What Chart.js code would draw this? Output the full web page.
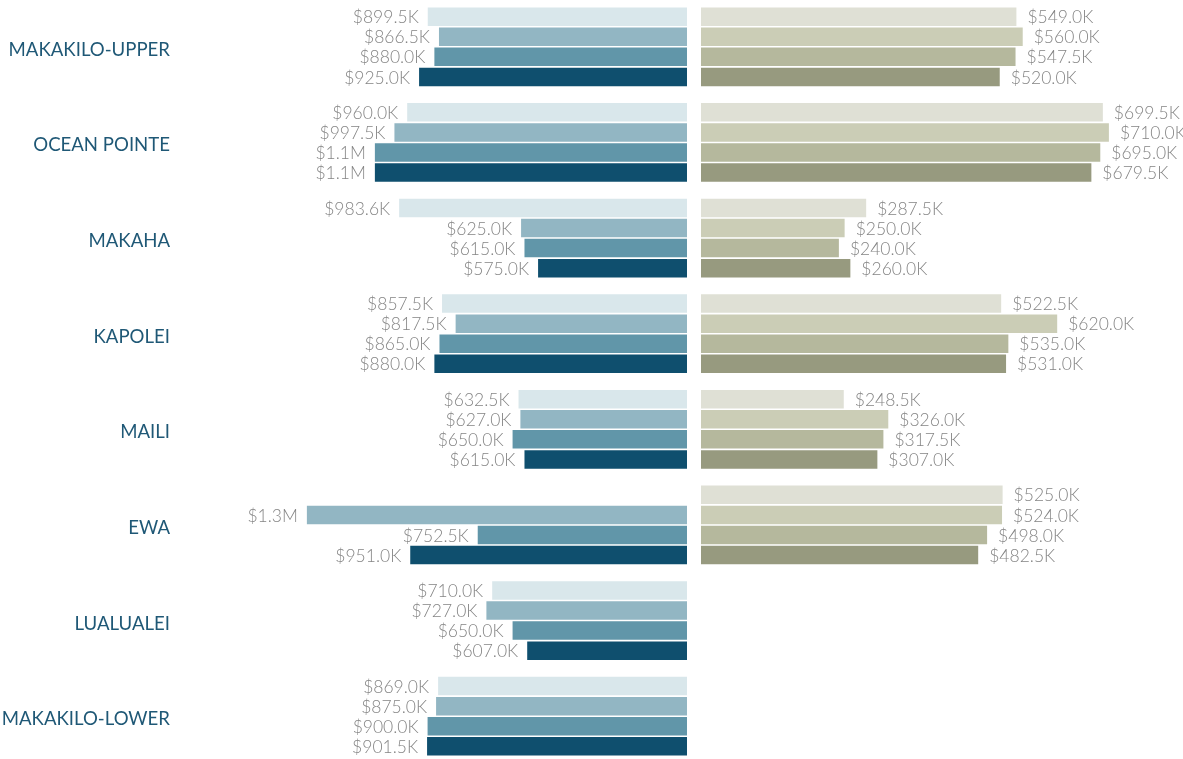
<!DOCTYPE html>
<html>
<head>
<meta charset="utf-8">
<script src="https://cdn.jsdelivr.net/npm/chart.js@4"></script>
<style>
    body { margin: 0; background: #fff; overflow: hidden; }
    #contenedor { position: relative; width: 1183px; height: 759px; overflow: hidden; }
    #cajaIzq { position: absolute; left: 0; top: -1px; width: 687px; height: 765px; }
    #cajaDer { position: absolute; left: 701px; top: -1px; width: 482px; height: 765px; }
</style>
</head>
<body>
<div id="contenedor">
    <div id="cajaIzq"><canvas id="graficoIzq"></canvas></div>
    <div id="cajaDer"><canvas id="graficoDer"></canvas></div>
</div>
<script>
// barrios (categorias)
const barrios = ['MAKAKILO-UPPER', 'OCEAN POINTE', 'MAKAHA', 'KAPOLEI', 'MAILI', 'EWA', 'LUALUALEI', 'MAKAKILO-LOWER'];

// panel izquierdo, valores en miles de $
const izq1 = [899.5, 960.0, 983.6, 857.5, 632.5, null, 710.0, 869.0];
const izq2 = [866.5, 997.5, 625.0, 817.5, 627.0, 1255, 727.0, 875.0];
const izq3 = [880.0, 1055, 615.0, 865.0, 650.0, 752.5, 650.0, 900.0];
const izq4 = [925.0, 1055, 575.0, 880.0, 615.0, 951.0, 607.0, 901.5];

// panel derecho, valores en miles de $
const der1 = [549.0, 699.5, 287.5, 522.5, 248.5, 525.0, null, null];
const der2 = [560.0, 710.0, 250.0, 620.0, 326.0, 524.0, null, null];
const der3 = [547.5, 695.0, 240.0, 535.0, 317.5, 498.0, null, null];
const der4 = [520.0, 679.5, 260.0, 531.0, 307.0, 482.5, null, null];

const coloresIzq = ['#d9e7eb', '#92b6c3', '#6196a9', '#0f4f6e'];
const coloresDer = ['#dfe0d5', '#cbcdb6', '#b5b89d', '#979a7f'];

const fuente = "'Lato', 'Open Sans', sans-serif";

function formatear(v) {
    if (v >= 1000) {
        return '$' + (v / 1000).toFixed(1) + 'M';
    }
    return '$' + v.toFixed(1) + 'K';
}

// etiquetas de valor al final de cada barra
const etiquetas = {
    id: 'etiquetas',
    afterDatasetsDraw(chart, args, opts) {
        const ctx = chart.ctx;
        ctx.save();
        ctx.font = '300 17.5px ' + fuente;
        ctx.fillStyle = '#858585';
        ctx.textBaseline = 'middle';
        ctx.textAlign = opts.lado == 'izq' ? 'right' : 'left';
        chart.data.datasets.forEach((ds, i) => {
            const meta = chart.getDatasetMeta(i);
            meta.data.forEach((barra, j) => {
                const v = ds.data[j];
                if (v == null) return;
                const x = opts.lado == 'izq' ? barra.x - 9 : barra.x + 11;
                ctx.fillText(formatear(v), x, barra.y + 1);
            });
        });
        ctx.restore();
    }
};

// nombres de los barrios a la izquierda
const nombres = {
    id: 'nombres',
    afterDraw(chart) {
        const ctx = chart.ctx;
        const escala = chart.scales.y;
        ctx.save();
        ctx.font = '18.6px ' + fuente;
        ctx.fillStyle = '#1f5876';
        ctx.textAlign = 'right';
        ctx.textBaseline = 'middle';
        barrios.forEach((b, i) => {
            ctx.fillText(b, 170, escala.getPixelForValue(i) + 3);
        });
        ctx.restore();
    }
};

function series(listas, colores) {
    return listas.map((datos, i) => ({
        label: 'Serie ' + (i + 1),
        data: datos,
        backgroundColor: colores[i],
        borderWidth: 0,
        categoryPercentage: 0.84,
        barPercentage: 0.92
    }));
}

new Chart(document.getElementById('graficoIzq'), {
    type: 'bar',
    data: {
        labels: barrios,
        datasets: series([izq1, izq2, izq3, izq4], coloresIzq)
    },
    options: {
        indexAxis: 'y',
        responsive: true,
        maintainAspectRatio: false,
        animation: false,
        layout: { padding: { left: 180 } },
        plugins: {
            legend: { display: false },
            tooltip: { enabled: false },
            etiquetas: { lado: 'izq' }
        },
        scales: {
            x: {
                display: false,
                reverse: true,
                min: 137,
                max: 137 + 507 / 0.34
            },
            y: { display: false }
        }
    },
    plugins: [etiquetas, nombres]
});

new Chart(document.getElementById('graficoDer'), {
    type: 'bar',
    data: {
        labels: barrios,
        datasets: series([der1, der2, der3, der4], coloresDer)
    },
    options: {
        indexAxis: 'y',
        responsive: true,
        maintainAspectRatio: false,
        animation: false,
        layout: { padding: 0 },
        plugins: {
            legend: { display: false },
            tooltip: { enabled: false },
            etiquetas: { lado: 'der' }
        },
        scales: {
            x: {
                display: false,
                min: 0,
                max: 482 / 0.5745
            },
            y: { display: false }
        }
    },
    plugins: [etiquetas]
});
</script>
</body>
</html>
